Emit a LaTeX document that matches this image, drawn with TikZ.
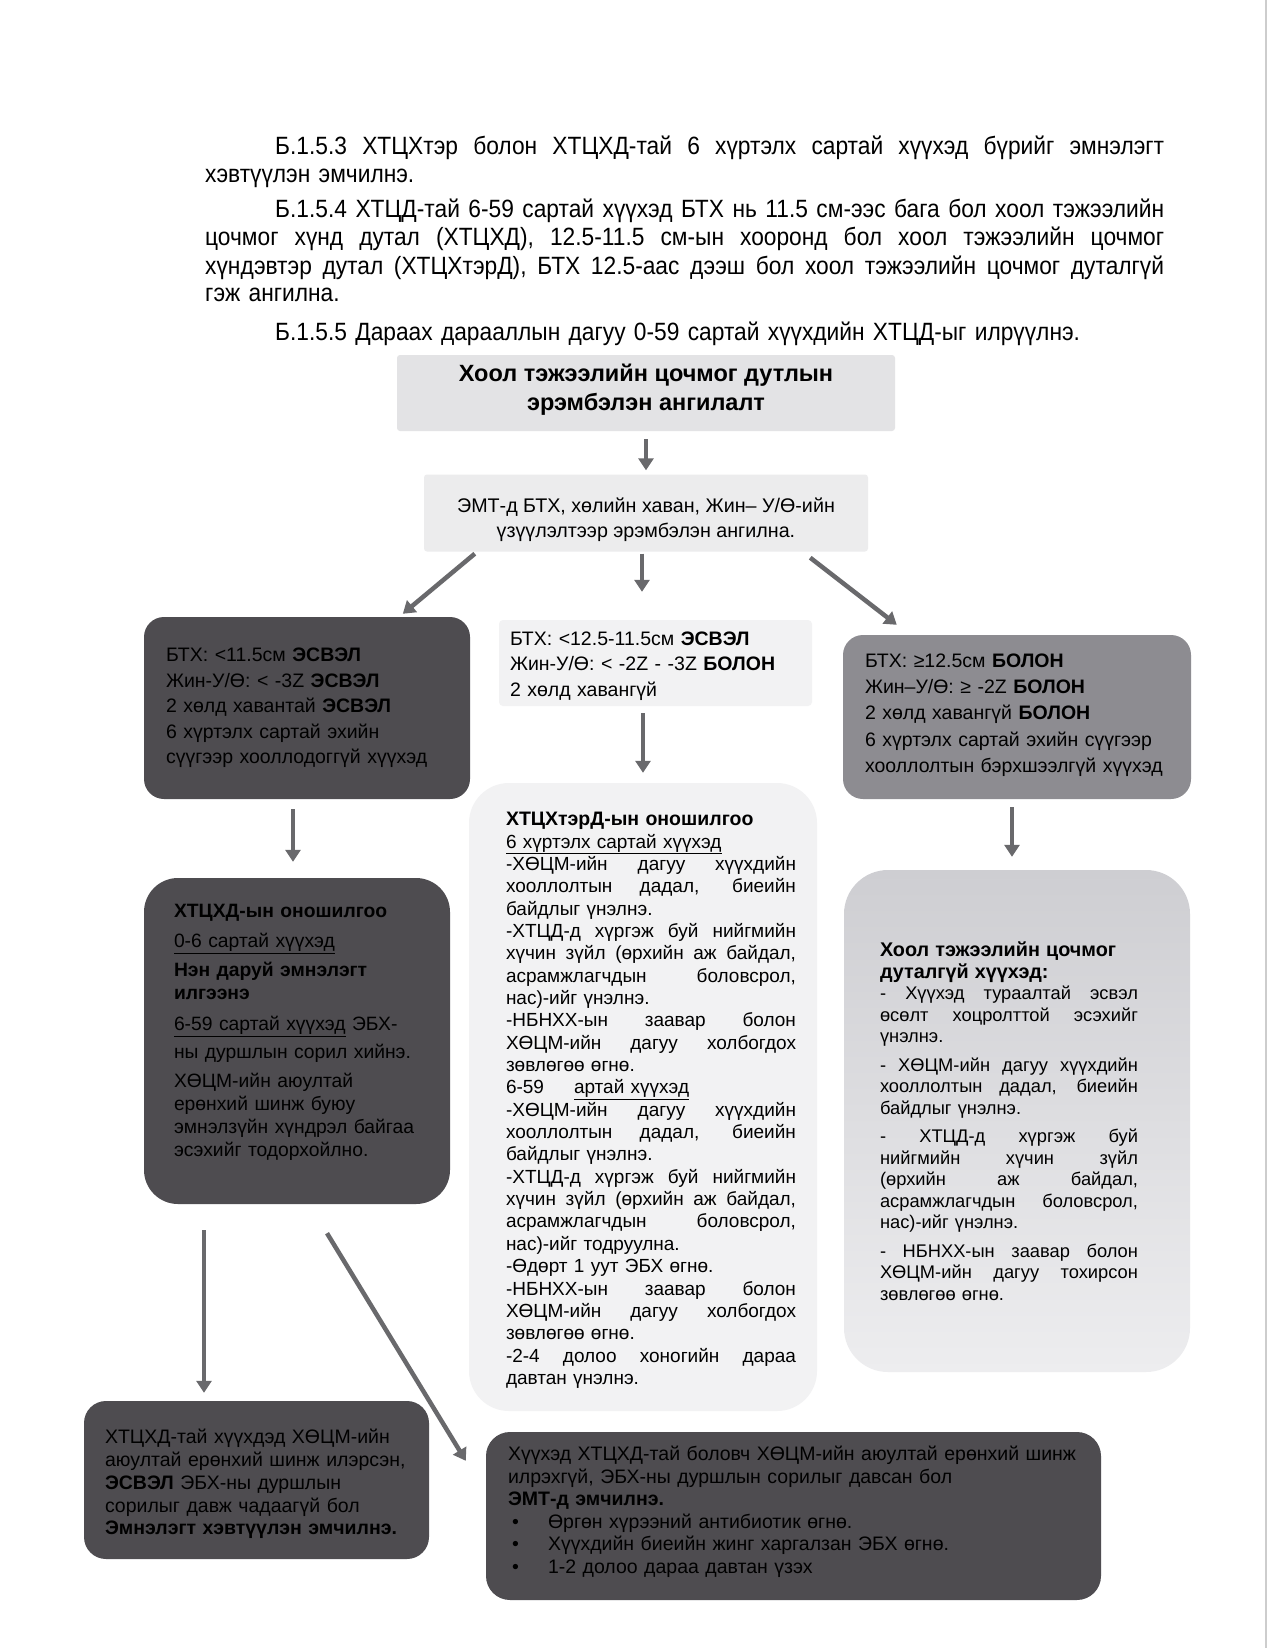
\documentclass[tikz,border=0pt]{standalone}
\usepackage{fontspec}
\setmainfont{Liberation Sans}
\newfontfamily\narrowfont[FakeStretch=0.91]{Liberation Sans}
\usetikzlibrary{arrows.meta,positioning}
\definecolor{ArrowGray}{RGB}{105,105,108}
\definecolor{DarkFill}{RGB}{78,76,80}
\definecolor{MidFill}{RGB}{141,140,145}
\definecolor{TitleFill}{RGB}{227,227,229}
\definecolor{LightFill}{RGB}{236,236,237}
\definecolor{PaleFill}{RGB}{242,242,243}
\definecolor{FadeTop}{RGB}{206,206,210}
\definecolor{FadeBottom}{RGB}{237,237,239}
\definecolor{EdgeGray}{RGB}{205,205,205}
\newcommand{\jline}[2][\linewidth]{\makebox[#1][s]{\spaceskip=.2778em plus 1fil\xspaceskip=.2778em plus 1fil\relax #2}}
\newcommand{\padb}[1]{\rule[-#1]{0pt}{#1}}
\newcommand{\padt}[1]{\rule{0pt}{#1}}
\newcommand{\bulitem}{\hspace*{4pt}\makebox[36pt][l]{•}}
\tikzset{
  flowarrow/.style={draw=ArrowGray, line width=4.5pt, -{Triangle[width=15pt,length=12pt]}},
  pagetext/.style={font=\narrowfont\fontsize{25}{28}\selectfont, text width=959pt, align=left, inner sep=0pt, anchor=base west},
  cardtext/.style={font=\fontsize{19.5}{25.5}\selectfont, align=left, inner ysep=0pt},
  headcard/.style={fill=TitleFill, rounded corners=3pt, inner sep=0pt, align=center},
  palecard/.style={cardtext, fill=PaleFill},
  darkcard/.style={cardtext, fill=DarkFill},
  midcard/.style={cardtext, fill=MidFill},
}
\begin{document}
\begin{tikzpicture}[x=1pt, y=-1pt]
  \fill[white] (0,0) rectangle (1272,1648);
  \useasboundingbox (0,0) rectangle (1272,1648);
  \draw[EdgeGray, line width=2.5pt] (1266,0) -- (1266,1648);

  % text above the chart
  \node[pagetext] (parone) at (205,155) {\hspace*{70pt}\jline[889pt]{Б.1.5.3 ХТЦХтэр болон ХТЦХД-тай 6 хүртэлх сартай хүүхэд бүрийг эмнэлэгт}\\
    хэвтүүлэн эмчилнэ.};
  \node[pagetext] (partwo) at (205,218) {\hspace*{70pt}\jline[889pt]{Б.1.5.4 ХТЦД-тай 6-59 сартай хүүхэд БТХ нь 11.5 см-ээс бага бол хоол тэжээлийн}\\
    \jline{цочмог хүнд дутал (ХТЦХД), 12.5-11.5 см-ын хооронд бол хоол тэжээлийн цочмог}\\
    \jline{хүндэвтэр дутал (ХТЦХтэрД), БТХ 12.5-аас дээш бол хоол тэжээлийн цочмог дуталгүй}\\
    гэж ангилна.};
  \node[pagetext] (parthree) at (205,340) {\hspace*{70pt}Б.1.5.5 Дараах дарааллын дагуу 0-59 сартай хүүхдийн ХТЦД-ыг илрүүлнэ.};

  % chart
  \node[headcard, minimum width=498pt, minimum height=76pt, font=\bfseries\fontsize{23.5}{29}\selectfont] (title) at (646,393)
    {Хоол тэжээлийн цочмог дутлын\\ эрэмбэлэн ангилалт\padb{12pt}};
  \node[headcard, fill=LightFill, minimum width=444pt, minimum height=77pt, font=\fontsize{19.7}{25}\selectfont] (classify) at (646,513)
    {\padt{28pt}ЭМТ-д БТХ, хөлийн хаван, Жин– У/Ө-ийн\\ үзүүлэлтээр эрэмбэлэн ангилна.};

  \node[darkcard, rounded corners=20pt, text width=282pt, inner xsep=22pt, minimum height=182pt] (severe) at (307,708)
    {БТХ: <11.5см \textbf{ЭСВЭЛ}\\
     Жин-У/Ө: < -3Z \textbf{ЭСВЭЛ}\\
     2 хөлд хавантай \textbf{ЭСВЭЛ}\\
     6 хүртэлх сартай эхийн\\
     сүүгээр хооллодоггүй хүүхэд};
  \node[palecard, rounded corners=4pt, text width=291pt, inner xsep=11pt, minimum height=86pt] (moderate) at (655.5,663)
    {\padt{20pt}БТХ: <12.5-11.5см \textbf{ЭСВЭЛ}\\
     Жин-У/Ө: < -2Z - -3Z \textbf{БОЛОН}\\
     2 хөлд хавангүй};
  \node[midcard, rounded corners=20pt, text width=304pt, inner xsep=22pt, minimum height=164pt, font=\fontsize{19.5}{26.2}\selectfont] (normal) at (1017,717)
    {БТХ: ≥12.5см \textbf{БОЛОН}\\
     Жин–У/Ө: ≥ -2Z \textbf{БОЛОН}\\
     2 хөлд хавангүй \textbf{БОЛОН}\\
     6 хүртэлх сартай эхийн сүүгээр\\
     хооллолтын бэрхшээлгүй хүүхэд\padb{8pt}};

  \node[darkcard, rounded corners=34pt, text width=246pt, inner xsep=30pt, minimum height=326pt, font=\fontsize{19.3}{23}\selectfont] (severedx) at (297,1041)
    {\textbf{ХТЦХД-ын оношилгоо}\\[7pt]
     \underline{0-6 сартай хүүхэд}\\[6pt]
     \textbf{Нэн даруй эмнэлэгт}\\
     \textbf{илгээнэ}\\[8pt]
     \underline{6-59 сартай хүүхэд} ЭБХ-\\[5pt]
     ны дуршлын сорил хийнэ.\\[6pt]
     ХӨЦМ-ийн аюултай\\
     ерөнхий шинж буюу\\
     эмнэлзүйн хүндрэл байгаа\\
     эсэхийг тодорхойлно.\padb{21pt}};
  \node[palecard, rounded corners=40pt, text width=274pt, inner xsep=37pt, minimum height=628pt, font=\fontsize{19}{22.35}\selectfont] (moderatedx) at (643,1097)
    {\padt{20pt}\textbf{\fontsize{19.5}{22.35}\selectfont ХТЦХтэрД-ын оношилгоо}\\
     \underline{6 хүртэлх сартай хүүхэд}\\
     \jline[290pt]{-ХӨЦМ-ийн дагуу хүүхдийн}\\
     \jline[290pt]{хооллолтын дадал, биеийн}\\
     байдлыг үнэлнэ.\\
     \jline[290pt]{-ХТЦД-д хүргэж буй нийгмийн}\\
     \jline[290pt]{хүчин зүйл (өрхийн аж байдал,}\\
     \jline[290pt]{асрамжлагчдын боловсрол,}\\
     нас)-ийг үнэлнэ.\\
     \jline[290pt]{-НБНХХ-ын заавар болон}\\
     \jline[290pt]{ХӨЦМ-ийн дагуу холбогдох}\\
     зөвлөгөө өгнө.\\
     6-59\hspace*{30pt}\underline{артай хүүхэд}\\
     \jline[290pt]{-ХӨЦМ-ийн дагуу хүүхдийн}\\
     \jline[290pt]{хооллолтын дадал, биеийн}\\
     байдлыг үнэлнэ.\\
     \jline[290pt]{-ХТЦД-д хүргэж буй нийгмийн}\\
     \jline[290pt]{хүчин зүйл (өрхийн аж байдал,}\\
     \jline[290pt]{асрамжлагчдын боловсрол,}\\
     нас)-ийг тодруулна.\\
     -Өдөрт 1 уут ЭБХ өгнө.\\
     \jline[290pt]{-НБНХХ-ын заавар болон}\\
     \jline[290pt]{ХӨЦМ-ийн дагуу холбогдох}\\
     зөвлөгөө өгнө.\\
     \jline[290pt]{-2-4 долоо хоногийн дараа}\\
     давтан үнэлнэ.};
  \node[cardtext, top color=FadeTop, bottom color=FadeBottom, rounded corners=44pt, text width=274pt, inner xsep=36pt, minimum height=502pt, font=\fontsize{18.3}{21.5}\selectfont] (normaldx) at (1017,1121)
    {\textbf{\fontsize{19.8}{21.5}\selectfont Хоол тэжээлийн цочмог}\\
     \textbf{\fontsize{19.8}{21.5}\selectfont дуталгүй хүүхэд:}\\
     \jline[258pt]{- Хүүхэд тураалтай эсвэл}\\
     \jline[258pt]{өсөлт хоцролттой эсэхийг}\\
     үнэлнэ.\\[7pt]
     \jline[258pt]{- ХӨЦМ-ийн дагуу хүүхдийн}\\
     \jline[258pt]{хооллолтын дадал, биеийн}\\
     байдлыг үнэлнэ.\\[7pt]
     \jline[258pt]{- ХТЦД-д хүргэж буй}\\
     \jline[258pt]{нийгмийн хүчин зүйл}\\
     \jline[258pt]{(өрхийн аж байдал,}\\
     \jline[258pt]{асрамжлагчдын боловсрол,}\\
     нас)-ийг үнэлнэ.\\[7pt]
     \jline[258pt]{- НБНХХ-ын заавар болон}\\
     \jline[258pt]{ХӨЦМ-ийн дагуу тохирсон}\\
     зөвлөгөө өгнө.};

  \node[darkcard, rounded corners=22pt, text width=303pt, inner xsep=21pt, minimum height=158pt, font=\fontsize{19.5}{22.75}\selectfont] (inpatient) at (256.5,1480)
    {\padt{23pt}ХТЦХД-тай хүүхдэд ХӨЦМ-ийн\\
     аюултай ерөнхий шинж илэрсэн,\\
     \textbf{ЭСВЭЛ} ЭБХ-ны дуршлын\\
     сорилыг давж чадаагүй бол\\
     \textbf{Эмнэлэгт хэвтүүлэн эмчилнэ.}};
  \node[darkcard, rounded corners=24pt, text width=571pt, inner xsep=22pt, minimum height=168pt, font=\fontsize{19.5}{22.5}\selectfont] (outpatient) at (793.5,1516)
    {Хүүхэд ХТЦХД-тай боловч ХӨЦМ-ийн аюултай ерөнхий шинж\\
     илрэхгүй, ЭБХ-ны дуршлын сорилыг давсан бол\\
     \textbf{ЭМТ-д эмчилнэ.}\\
     \bulitem Өргөн хүрээний антибиотик өгнө.\\
     \bulitem Хүүхдийн биеийн жинг харгалзан ЭБХ өгнө.\\
     \bulitem 1-2 долоо дараа давтан үзэх\padb{13pt}};

  % connectors
  \draw[flowarrow] ([yshift=-8pt]title.south) -- ([yshift=4pt]classify.north);
  \draw[flowarrow] ([xshift=51pt,yshift=-2pt]classify.south west) -- ([xshift=259pt,yshift=3pt]severe.north west);
  \draw[flowarrow] ([xshift=-4pt,yshift=-2pt]classify.south) -- ([xshift=-13.5pt,yshift=28pt]moderate.north);
  \draw[flowarrow] ([xshift=-58pt,yshift=-6pt]classify.south east) -- ([xshift=54pt,yshift=10pt]normal.north west);
  \draw[flowarrow] ([xshift=-14pt,yshift=-10pt]severe.south) -- ([xshift=-4pt,yshift=16pt]severedx.north);
  \draw[flowarrow] ([xshift=-12.5pt,yshift=-7pt]moderate.south) -- ([yshift=10pt]moderatedx.north);
  \draw[flowarrow] ([xshift=-5pt,yshift=-8pt]normal.south) -- ([xshift=-5pt,yshift=13pt]normaldx.north);
  \draw[flowarrow] ([xshift=-93pt,yshift=-26pt]severedx.south) -- ([xshift=-52.5pt,yshift=8pt]inpatient.north);
  \draw[flowarrow] ([xshift=30pt,yshift=-29pt]severedx.south) -- ([xshift=-20pt,yshift=-29pt]outpatient.north west);
\end{tikzpicture}
\end{document}
